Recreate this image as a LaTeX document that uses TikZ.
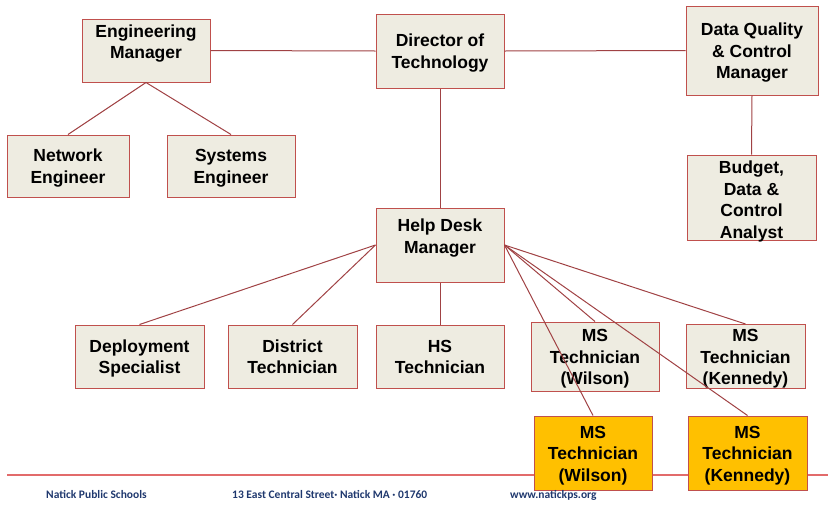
\documentclass[tikz,border=0pt]{standalone}
\usepackage{fontspec}
\setmainfont{Liberation Sans}
\newfontfamily\footfont{Carlito}
\newcommand\topstr{\rule{0pt}{17pt}}
\newcommand\botstr{\rule[-4pt]{0pt}{4pt}}
\definecolor{boxfill}{RGB}{238,236,225}
\definecolor{boxdraw}{RGB}{192,80,77}
\definecolor{linkcol}{RGB}{160,66,68}
\definecolor{orangefill}{RGB}{255,192,0}
\definecolor{footline}{RGB}{226,107,107}
\definecolor{footblue}{RGB}{31,56,110}
\tikzset{
  box/.style={draw=boxdraw, fill=boxfill, line width=1pt, rectangle, inner sep=0pt,
    align=center, font=\fontsize{17.5}{21.5}\selectfont\bfseries},
  obox/.style={box, fill=orangefill},
  txt/.style={align=center, inner sep=0pt, font=\fontsize{17.5}{21.5}\selectfont\bfseries},
  link/.style={draw=linkcol, line width=1pt},
  foot/.style={inner sep=0pt, anchor=base west, text=footblue, font=\footfont\fontsize{11.5}{13}\selectfont\bfseries}
}
\begin{document}
\begin{tikzpicture}[x=1pt,y=-1pt]
\useasboundingbox (0,0) rectangle (828,504);
% footer rule (behind boxes)
\coordinate (fl) at (7,475);
\coordinate (fr) at (828,475);
\draw[draw=footline, line width=1.2pt] (fl) -- (fr);
% boxes
\node[box, minimum width=128pt, minimum height=63pt] (em) at (146,50.5) {};
\node[txt] (emt) at (146,41.5) {\topstr Engineering\\Manager\botstr};
\node[box, minimum width=122pt, minimum height=62pt] (net) at (68,166) {\topstr Network\\Engineer\botstr};
\node[box, minimum width=128pt, minimum height=62pt] (sys) at (231,166) {\topstr Systems\\Engineer\botstr};
\node[box, minimum width=128pt, minimum height=74pt] (dir) at (440,51) {\topstr Director of\\Technology\botstr};
\node[box, minimum width=132pt, minimum height=89pt] (dq) at (752,50.5) {\topstr Data Quality\\\& Control\\Manager\botstr};
\node[box, minimum width=129pt, minimum height=85pt] (bud) at (751.5,197.5) {};
\node[txt] (budt) at (751.5,199.5) {\topstr Budget,\\Data \&\\Control\\Analyst\botstr};
\node[box, minimum width=128pt, minimum height=74pt] (hd) at (440,245) {};
\node[txt] (hdt) at (440,236) {\topstr Help Desk\\Manager\botstr};
\node[box, minimum width=129pt, minimum height=63pt] (dep) at (139.5,356.5) {\topstr Deployment\\Specialist\botstr};
\node[box, minimum width=129pt, minimum height=63pt] (dis) at (292.5,356.5) {\topstr District\\Technician\botstr};
\node[box, minimum width=128pt, minimum height=63pt] (hs) at (440,356.5) {\topstr HS\\Technician\botstr};
\node[box, minimum width=128pt, minimum height=69pt] (msw) at (595,356.5) {\topstr MS\\Technician\\(Wilson)\botstr};
\node[box, minimum width=119pt, minimum height=63pt] (msk) at (745.5,356.5) {\topstr MS\\Technician\\(Kennedy)\botstr};
% connectors
\draw[link] (em.east) -- (dir.west);
\draw[link] (dir.east) -- (dq.west);
\draw[link] (em.south) -- (net.north);
\draw[link] (em.south) -- (sys.north);
\draw[link] (dq.south) -- (bud.north);
\draw[link] (dir.south) -- (hd.north);
\draw[link] (hd.west) -- (dep.north);
\draw[link] (hd.west) -- (dis.north);
\draw[link] (hd.south) -- (hs.north);
\draw[link] (hd.east) -- (msw.north);
\draw[link] (hd.east) -- (msk.north);
% orange boxes
\node[obox, minimum width=118pt, minimum height=74pt] (ow) at (593,453) {\topstr MS\\Technician\\(Wilson)\botstr};
\node[obox, minimum width=119pt, minimum height=74pt] (ok) at (747.5,453) {\topstr MS\\Technician\\(Kennedy)\botstr};
\draw[link] (hd.east) -- (ow.north);
\draw[link] (hd.east) -- (ok.north);
% footer
\node[foot] (f1) at (46,498.5) {Natick Public Schools};
\node[foot] (f2) at (232,498.5) {13 East Central Street· Natick MA · 01760};
\node[foot] (f3) at (510,498.5) {www.natickps.org};
\end{tikzpicture}
\end{document}
